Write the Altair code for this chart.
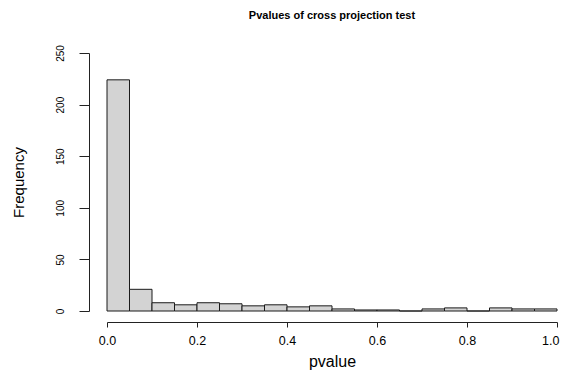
import altair as alt
import pandas as pd

# Histogram bins (pvalue) and their counts
bin_start = [0.00, 0.05, 0.10, 0.15, 0.20, 0.25, 0.30, 0.35, 0.40, 0.45,
             0.50, 0.55, 0.60, 0.65, 0.70, 0.75, 0.80, 0.85, 0.90, 0.95]
bin_end = [0.05, 0.10, 0.15, 0.20, 0.25, 0.30, 0.35, 0.40, 0.45, 0.50,
           0.55, 0.60, 0.65, 0.70, 0.75, 0.80, 0.85, 0.90, 0.95, 1.00]
counts = [224, 21, 8, 6, 8, 7, 5, 6, 4, 5,
          2, 1, 1, 0, 2, 3, 0, 3, 2, 2]

x_ticks = [0.0, 0.2, 0.4, 0.6, 0.8, 1.0]
y_ticks = [0, 50, 100, 150, 200, 250]

df = pd.DataFrame({"start": bin_start, "end": bin_end, "count": counts})

FONT = "Liberation Sans"

chart = alt.Chart(df).mark_rect(
    fill="#D3D3D3", stroke="#1a1a1a", strokeWidth=1
).encode(
    x=alt.X("start:Q", scale=alt.Scale(domain=[0, 1], nice=False, zero=False),
            axis=alt.Axis(
                values=x_ticks, format=".1f", title="pvalue", grid=False,
                offset=11, tickSize=5, tickColor="#222", domainColor="#222",
                labelFont=FONT, labelFontSize=12.5, labelColor="black",
                labelPadding=7, labelFlush=False,
                labelAlign=alt.condition("datum.value == 1",
                                         alt.value("right"), alt.value("center")),
                labelOffset=alt.condition("datum.value == 1",
                                          alt.value(2), alt.value(0)),
                titleFont=FONT, titleFontSize=16, titleFontWeight="normal",
                titleColor="black", titleX=225, titleY=39,
                titleBaseline="middle", titleAlign="center",
            )),
    x2="end:Q",
    y=alt.Y("count:Q", scale=alt.Scale(domain=[0, 250], nice=False),
            axis=alt.Axis(
                values=y_ticks, title="Frequency", grid=False,
                offset=18, tickSize=10, tickColor="#222", domainColor="#222",
                labelFont=FONT, labelFontSize=10, labelColor="black",
                labelAngle=270, labelAlign="center", labelBaseline="bottom",
                labelPadding=14,
                titleFont=FONT, titleFontSize=15, titleFontWeight="normal",
                titleColor="black", titleAngle=270, titleX=-71, titleY=129,
                titleBaseline="middle", titleAlign="center",
            )),
    y2=alt.datum(0),
).properties(
    width=450,
    height=258,
    title=alt.TitleParams(
        "Pvalues of cross projection test", font=FONT, fontSize=11,
        fontWeight="bold", color="black", anchor="middle", offset=24,
    ),
    autosize=alt.AutoSizeParams(type="none"),
    padding={"left": 99, "top": 45, "right": 3, "bottom": 60},
).configure(background="white").configure_view(stroke=None)

chart.save("out.html", embed_options={"renderer": "svg", "actions": False})
